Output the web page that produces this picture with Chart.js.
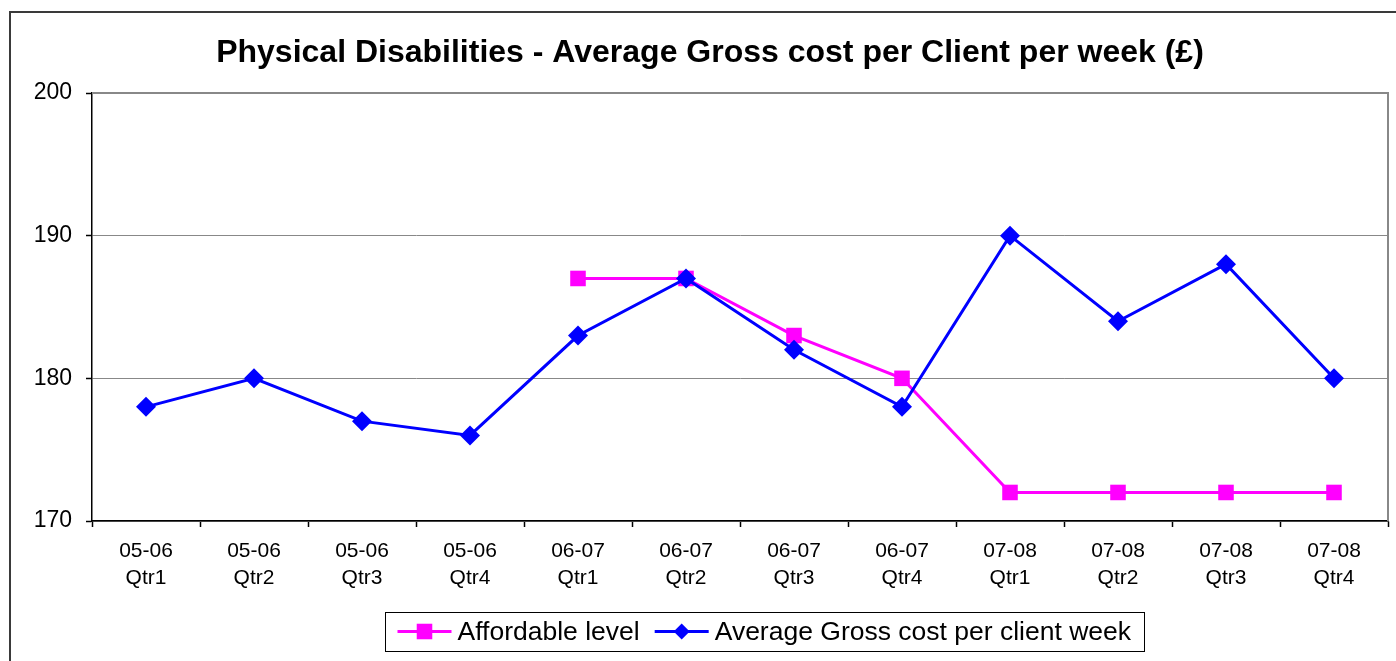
<!DOCTYPE html>
<html><head><meta charset="utf-8">
<script src="https://cdn.jsdelivr.net/npm/chart.js@4.4.0/dist/chart.umd.min.js"></script>
<style>html,body{margin:0;padding:0;background:#fff;overflow:hidden}#wrap{width:1396px;height:661px;position:relative}</style>
</head><body><div id="wrap"><canvas id="c" width="1396" height="661"></canvas></div>
<script>
const titleText = 'Physical Disabilities - Average Gross cost per Client per week (£)';
const periods = ['05-06','05-06','05-06','05-06','06-07','06-07','06-07','06-07','07-08','07-08','07-08','07-08'];
const quarters = ['Qtr1','Qtr2','Qtr3','Qtr4','Qtr1','Qtr2','Qtr3','Qtr4','Qtr1','Qtr2','Qtr3','Qtr4'];
const affordableLevel = [null,null,null,null,187,187,183,180,172,172,172,172];
const avgGrossCost = [178,180,177,176,183,187,182,178,190,184,188,180];
const yTicks = [170,180,190,200];
const seriesNames = ['Affordable level','Average Gross cost per client week'];

const FONT = '"Liberation Sans", Arial, Helvetica, sans-serif';
const PINK = '#FF00FF', BLUE = '#0000FF';

const frame = {
  id: 'frame',
  beforeDraw(chart) {
    const ctx = chart.ctx;
    ctx.save();
    ctx.fillStyle = '#fff';
    ctx.fillRect(0, 0, chart.width, chart.height);
    ctx.strokeStyle = '#3a3a3a';
    ctx.lineWidth = 2;
    ctx.beginPath();
    ctx.moveTo(10, chart.height + 2);
    ctx.lineTo(10, 12);
    ctx.lineTo(chart.width + 2, 12);
    ctx.stroke();
    ctx.restore();
  },
  beforeDatasetsDraw(chart) {
    const a = chart.chartArea, ctx = chart.ctx;
    ctx.save();
    ctx.strokeStyle = '#888';
    ctx.lineWidth = 2;
    ctx.beginPath();
    ctx.moveTo(a.left, a.top);
    ctx.lineTo(a.right, a.top);
    ctx.lineTo(a.right, a.bottom);
    ctx.stroke();
    ctx.restore();
  }
};

function marker(ctx, style, x, y, r, color) {
  ctx.fillStyle = color;
  ctx.beginPath();
  if (style === 'rect') {
    const s = Math.SQRT1_2 * r;
    ctx.rect(x - s, y - s, 2 * s, 2 * s);
  } else {
    ctx.moveTo(x - r, y); ctx.lineTo(x, y - r); ctx.lineTo(x + r, y); ctx.lineTo(x, y + r); ctx.closePath();
  }
  ctx.fill();
}

const legendBox = {
  id: 'legendBox',
  afterDraw(chart) {
    const ctx = chart.ctx;
    const cx = 764.5, cy = 631.5, h = 39;
    const padL = 12, seg = 54, gapT = 6, gapItem = 15, padR = 13;
    ctx.save();
    ctx.font = '26.5px ' + FONT;
    const ds = [chart.data.datasets[0], chart.data.datasets[1]];
    const widths = ds.map(d => ctx.measureText(d.label).width);
    const total = padL + ds.length * (seg + gapT) + widths.reduce((a, b) => a + b, 0) + gapItem * (ds.length - 1) + padR;
    const left = Math.round(cx - total / 2) + 0.5;
    ctx.strokeStyle = '#000';
    ctx.lineWidth = 1;
    ctx.strokeRect(left, Math.round(cy - h / 2) + 0.5, Math.round(total), h);
    let x = left + padL;
    ds.forEach((d, i) => {
      ctx.strokeStyle = d.borderColor;
      ctx.lineWidth = 3;
      ctx.beginPath(); ctx.moveTo(x, cy); ctx.lineTo(x + seg, cy); ctx.stroke();
      marker(ctx, d.pointStyle, x + seg / 2, cy, d.pointStyle === 'rect' ? d.pointRadius : 8, d.borderColor);
      x += seg + gapT;
      ctx.fillStyle = '#000';
      ctx.textBaseline = 'middle';
      ctx.textAlign = 'left';
      ctx.fillText(d.label, x, cy + 1);
      x += widths[i] + gapItem;
    });
    ctx.restore();
  }
};

new Chart(document.getElementById('c'), {
  type: 'line',
  data: {
    labels: periods.map((p, i) => [p, quarters[i]]),
    datasets: [
      {
        label: seriesNames[0], data: affordableLevel, order: 2,
        borderColor: PINK, backgroundColor: PINK, borderWidth: 3,
        pointStyle: 'rect', pointRadius: 11, pointHoverRadius: 11,
        pointBackgroundColor: PINK, pointBorderColor: PINK, pointBorderWidth: 0,
        tension: 0, fill: false
      },
      {
        label: seriesNames[1], data: avgGrossCost, order: 1,
        borderColor: BLUE, backgroundColor: BLUE, borderWidth: 3,
        pointStyle: 'rectRot', pointRadius: 10, pointHoverRadius: 10,
        pointBackgroundColor: BLUE, pointBorderColor: BLUE, pointBorderWidth: 0,
        tension: 0, fill: false
      }
    ]
  },
  options: {
    responsive: false,
    animation: false,
    devicePixelRatio: 1,
    layout: { autoPadding: false, padding: { left: 32, right: 8, top: 0, bottom: 60 } },
    plugins: {
      legend: { display: false },
      tooltip: { enabled: false },
      title: {
        display: true, text: titleText, color: '#000',
        font: { family: FONT, size: 32, weight: 'bold', lineHeight: 1.2 },
        padding: { top: 34, bottom: 20.6 }
      }
    },
    scales: {
      x: {
        offset: true,
        grid: { offset: true, drawOnChartArea: false, drawTicks: true, tickLength: 6, tickColor: '#000', tickWidth: 1.5 },
        border: { color: '#000', width: 1.5 },
        ticks: { color: '#000', font: { family: FONT, size: 21, lineHeight: 1.27 }, padding: 11, maxRotation: 0, autoSkip: false },
        afterFit(s) { s.height = 80; }
      },
      y: {
        min: yTicks[0], max: yTicks[yTicks.length - 1],
        afterBuildTicks(s) { s.ticks = yTicks.map(v => ({ value: v })); },
        grid: { color: '#888', lineWidth: 1, drawTicks: true, tickLength: 6, tickColor: '#000', tickWidth: 1.5 },
        border: { color: '#000', width: 1.5 },
        ticks: { color: '#000', font: { family: FONT, size: 23 }, padding: 14 },
        afterFit(s) { s.width = 60; }
      }
    }
  },
  plugins: [frame, legendBox]
});
</script></body></html>
